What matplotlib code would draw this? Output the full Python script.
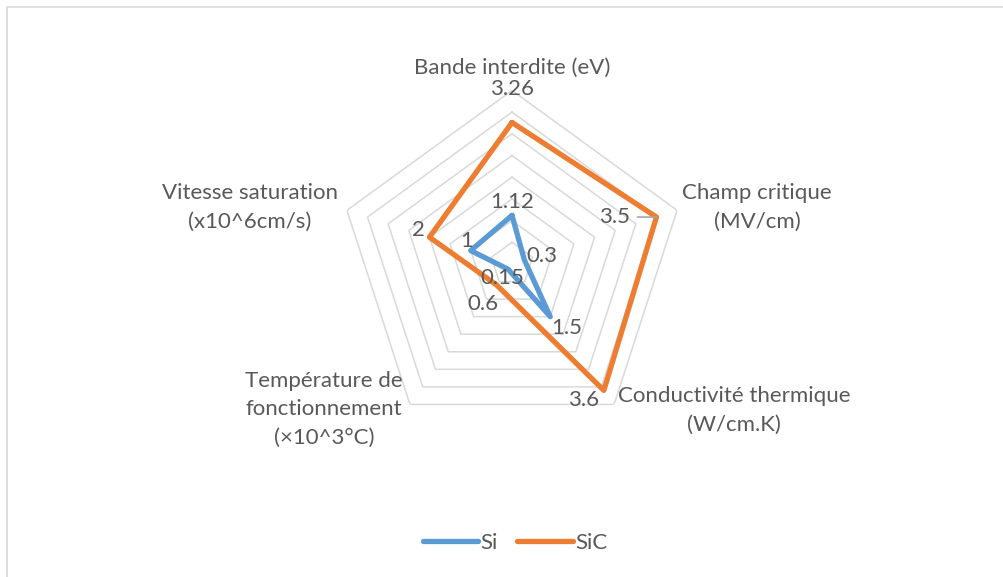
import numpy as np
import matplotlib
matplotlib.use("Agg")
import matplotlib.pyplot as plt
from matplotlib.patches import Rectangle

# ---- data ----
categories = ["Bande interdite (eV)",
              "Champ critique\n(MV/cm)",
              "Conductivité thermique\n(W/cm.K)",
              "Température de\nfonctionnement\n(×10^3°C)",
              "Vitesse saturation\n(x10^6cm/s)"]
series_names = ["Si", "SiC"]
si_values = [1.12, 0.3, 1.5, 0.15, 1]
sic_values = [3.26, 3.5, 3.6, 0.6, 2]
grid_levels = [0.5, 1, 1.5, 2, 2.5, 3, 3.5, 4]

# ---- style ----
C_SI = "#5B9BD5"
C_SIC = "#ED7D31"
C_TXT = "#595959"
C_GRID = "#D9D9D9"
FONT = "Lato"
FS = 16

W, H = 1004, 577
fig = plt.figure(figsize=(W / 100, H / 100), dpi=100)
fig.patch.set_facecolor("white")

# chart border
fig.patches.append(Rectangle((7 / W, -0.2), 1.2, 1 - 7 / H + 0.2, transform=fig.transFigure,
                             fill=False, edgecolor=C_GRID, linewidth=1.2))

cx, cy, R = 512, 264, 173.6
ax = fig.add_axes([(cx - R) / W, (H - cy - R) / H, 2 * R / W, 2 * R / H], projection="polar")
ax.set_theta_offset(np.pi / 2)
ax.set_theta_direction(-1)
ax.set_ylim(0, 4)
ax.set_xticks([])
ax.set_yticks([])
ax.grid(False)
ax.spines["polar"].set_visible(False)
ax.patch.set_alpha(0)

n = len(categories)
theta = np.arange(n) * 2 * np.pi / n
theta_c = np.append(theta, theta[0])

for lv in grid_levels:
    ax.plot(theta_c, [lv] * (n + 1), color=C_GRID, lw=1.1, zorder=1)

l_si, = ax.plot(theta_c, si_values + si_values[:1], color=C_SI, lw=3.8,
                solid_joinstyle="round", solid_capstyle="round", zorder=3)
l_sic, = ax.plot(theta_c, sic_values + sic_values[:1], color=C_SIC, lw=3.8,
                 solid_joinstyle="round", solid_capstyle="round", zorder=3)

# data labels (offsets in pixels)
si_off = [(0, 13), (17, 4), (16, -11), (-6, -8.5), (-4, 10)]
sic_off = [(0, 34), (-42, 0), (-20, -10), (-14, -19), (-11, 7)]
for vals, offs in ((si_values, si_off), (sic_values, sic_off)):
    for t, v, (dx, dy) in zip(theta, vals, offs):
        ax.annotate(f"{v:g}", xy=(t, v), xytext=(dx, dy), textcoords="offset pixels",
                    ha="center", va="center", fontsize=FS, color=C_TXT, family=FONT,
                    zorder=4, annotation_clip=False)

# leader line for the 3.5 label
ax.annotate("", xy=(theta[1], sic_values[1]), xytext=(-19, 0), textcoords="offset pixels",
            arrowprops=dict(arrowstyle="-", color="#A6A6A6", lw=1.2, shrinkA=0, shrinkB=0),
            annotation_clip=False)

# category labels
cat_off = [(0, 23), (80, 3), (120, -6), (-86, -5), (-97, 3)]
for t, name, (dx, dy) in zip(theta, categories, cat_off):
    ax.annotate(name, xy=(t, 4), xytext=(dx, dy), textcoords="offset pixels",
                ha="center", va="center", multialignment="center", fontsize=FS,
                color=C_TXT, family=FONT, linespacing=1.55, annotation_clip=False)

leg = fig.legend([l_si, l_sic], series_names, loc="center", bbox_to_anchor=(0.513, 1 - 543 / H),
                 ncol=2, frameon=False, handlelength=2.5, handletextpad=0.12,
                 columnspacing=0.85, prop={"family": FONT, "size": FS})
for txt in leg.get_texts():
    txt.set_color(C_TXT)

fig.savefig("out.png", dpi=100)
